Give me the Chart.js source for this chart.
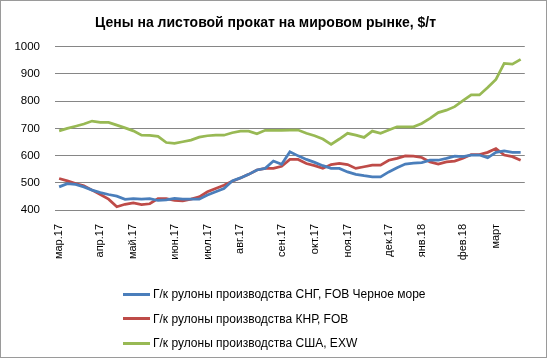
<!DOCTYPE html>
<html>
<head>
<meta charset="utf-8">
<script src="https://cdn.jsdelivr.net/npm/chart.js@4/dist/chart.umd.min.js"></script>
<style>
    body { margin: 0; background: #fff; }
    #wrap { position: relative; width: 548px; height: 359px; }
    #frame { position: absolute; left: 0; top: 0; width: 545px; height: 356px; border: 1px solid #9a9a9a; pointer-events: none; }
    #legend { position: absolute; left: 123px; top: 282px; font: 12px "Liberation Sans", Arial, sans-serif; color: #000; }
    .item { height: 24.5px; display: flex; align-items: center; white-space: nowrap; }
    .swatch { width: 27px; height: 3px; margin-right: 3px; }
</style>
</head>
<body>
<div id="wrap">
    <canvas id="myChart" width="548" height="359"></canvas>
    <div id="legend"></div>
    <div id="frame"></div>
</div>
<script>
// weekly categories, month name on the first week only
const weekLabels = [
    'мар.17', '', '', '', '',
    'апр.17', '', '', '',
    'май.17', '', '', '', '',
    'июн.17', '', '', '',
    'июл.17', '', '', '',
    'авг.17', '', '', '', '',
    'сен.17', '', '', '',
    'окт.17', '', '', '',
    'ноя.17', '', '', '', '',
    'дек.17', '', '', '',
    'янв.18', '', '', '', '',
    'фев.18', '', '', '',
    'март', '', '', ''
];

const cisFob = [
    485, 497, 494, 485, 473, 464, 457, 451, 439, 442,
    440, 442, 435, 437, 443, 440, 440, 440, 455, 467,
    479, 507, 518, 531, 547, 553, 580, 568, 614, 599,
    586, 575, 563, 553, 553, 540, 531, 526, 522, 522,
    540, 555, 569, 572, 574, 583, 583, 590, 598, 596,
    602, 602, 592, 612, 617, 612, 612
];
const chinaFob = [
    516, 507, 497, 489, 473, 457, 440, 412, 421, 426,
    420, 423, 442, 442, 435, 434, 440, 448, 467, 479,
    491, 506, 518, 531, 547, 553, 553, 561, 586, 586,
    571, 563, 553, 567, 571, 567, 553, 559, 565, 565,
    583, 590, 599, 598, 593, 577, 569, 577, 580, 590,
    604, 604, 612, 626, 602, 596, 583
];
const usaExw = [
    691, 700, 708, 716, 727, 722, 722, 712, 702, 691,
    675, 674, 671, 648, 645, 651, 657, 668, 673, 675,
    675, 684, 690, 690, 680, 693, 693, 693, 694, 694,
    682, 673, 661, 641, 661, 682, 675, 667, 690, 682,
    694, 706, 706, 706, 718, 737, 758, 767, 780, 802,
    823, 823, 850, 880, 939, 936, 954
];

const seriesNames = [
    'Г/к рулоны производства СНГ, FOB Черное море',
    'Г/к рулоны производства КНР, FOB',
    'Г/к рулоны производства США, EXW'
];
const seriesColors = ['#4a7ebb', '#be4b48', '#98b954'];
const yTicks = { min: 400, max: 1000, step: 100 };

document.addEventListener("DOMContentLoaded", function(){

    const ctx = document.getElementById('myChart');
    const values = [cisFob, chinaFob, usaExw];

    const myChart = new Chart(ctx, {
        type: 'line',
        data: {
            labels: weekLabels,
            datasets: values.map(function(v, i){
                return {
                    label: seriesNames[i],
                    data: v,
                    borderColor: seriesColors[i],
                    backgroundColor: seriesColors[i],
                    borderWidth: 2.75,
                    pointRadius: 0,
                    tension: 0
                }
            })
        },
        options: {
            responsive: false,
            animation: false,
            layout: { padding: { left: 0, right: 17, top: 0, bottom: 0 } },
            plugins: {
                legend: { display: false },
                tooltip: { enabled: false },
                title: {
                    display: true,
                    text: 'Цены на листовой прокат на мировом рынке, $/т',
                    color: '#000',
                    font: { family: '"Liberation Sans", Arial, sans-serif', size: 14, weight: 'bold' },
                    padding: { top: 15, bottom: 15 }
                }
            },
            scales: {
                x: {
                    offset: true,
                    grid: { display: false, drawTicks: false },
                    border: { display: false },
                    ticks: {
                        autoSkip: false,
                        minRotation: 90,
                        maxRotation: 90,
                        padding: 14,
                        color: '#000',
                        font: { family: '"Liberation Sans", Arial, sans-serif', size: 11 }
                    },
                    afterFit: function(scale){ scale.height = 149; }
                },
                y: {
                    min: yTicks.min,
                    max: yTicks.max,
                    grid: { color: '#868686', lineWidth: 1, drawTicks: false },
                    border: { display: false },
                    ticks: {
                        stepSize: yTicks.step,
                        padding: 15,
                        color: '#000',
                        font: { family: '"Liberation Sans", Arial, sans-serif', size: 11.5 },
                        callback: function(value){ return String(value); }
                    },
                    afterFit: function(scale){ scale.width = 55; }
                }
            }
        }
    });

    // legend stacked one item per row, built from the datasets
    const legend = document.getElementById('legend');
    myChart.data.datasets.forEach(function(ds){
        const row = document.createElement('div');
        row.className = 'item';
        const sw = document.createElement('span');
        sw.className = 'swatch';
        sw.style.background = ds.borderColor;
        row.appendChild(sw);
        row.appendChild(document.createTextNode(ds.label));
        legend.appendChild(row);
    });
});
</script>
</body>
</html>
